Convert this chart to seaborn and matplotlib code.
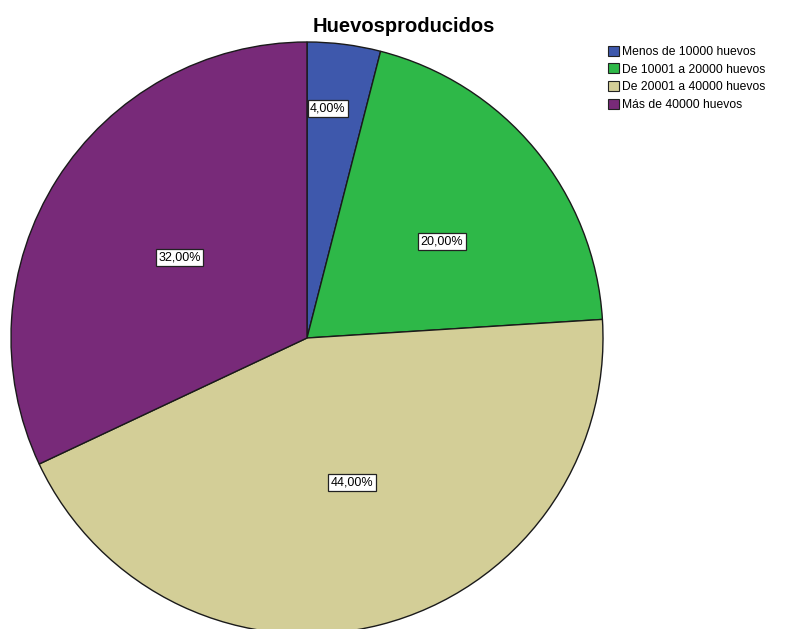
"""Pie chart of egg production ranges (SPSS-style)."""

import numpy as np
import matplotlib
matplotlib.use("Agg")
import matplotlib.pyplot as plt
import seaborn as sns

categories = ["Menos de 10000 huevos", "De 10001 a 20000 huevos",
              "De 20001 a 40000 huevos", "Más de 40000 huevos"]
percentages = [4.0, 20.0, 44.0, 32.0]
pct_labels = ["4,00%", "20,00%", "44,00%", "32,00%"]

colors = ["#3E58AC", "#2EB848", "#D3CE97", "#782A79"]
label_radius = [0.78, 0.56, 0.51, 0.51]   # per-slice label placement
label_shift = [2, -4, 3, 0]               # small angular nudges (deg), SPSS-like

sns.set_theme(style="white")
plt.rcParams["font.family"] = ["Liberation Sans", "DejaVu Sans"]
plt.rcParams["text.color"] = "black"

W, H = 789, 629
fig = plt.figure(figsize=(W / 100, H / 100), dpi=100)

# pie centre (307, 338) px, radius 296 px
cx, cy, r = 307, 338, 296
ax = fig.add_axes([(cx - r) / W, (H - cy - r) / H, 2 * r / W, 2 * r / H])

wedges, _ = ax.pie(
    percentages, colors=colors, startangle=90, counterclock=False,
    radius=1.0, wedgeprops={"edgecolor": "#1a1a1a", "linewidth": 1.0},
)
ax.set_xlim(-1.0, 1.0)
ax.set_ylim(-1.0, 1.0)
ax.set_aspect("equal")
ax.axis("off")

for w, lab, lr, sh in zip(wedges, pct_labels, label_radius, label_shift):
    ang = np.deg2rad((w.theta1 + w.theta2) / 2 + sh)
    ax.text(lr * np.cos(ang), lr * np.sin(ang), lab, ha="center", va="center",
            fontsize=9, color="black",
            bbox=dict(boxstyle="square,pad=0.2", facecolor="white",
                      edgecolor="#222222", linewidth=0.9))

fig.text(404 / W, 1 - 26 / H, "Huevosproducidos", ha="center", va="center",
         fontsize=14.5, fontweight="bold", color="black")

leg = fig.legend(wedges, categories, loc="upper left",
                 bbox_to_anchor=(603 / W, 1 - 41 / H), frameon=False,
                 fontsize=8.7, handlelength=0.9, handleheight=0.9,
                 handletextpad=0.3, labelspacing=0.45, borderaxespad=0)
for h in leg.legend_handles:
    h.set_edgecolor("#222222")
    h.set_linewidth(0.8)

fig.savefig("out.png", dpi=100)
